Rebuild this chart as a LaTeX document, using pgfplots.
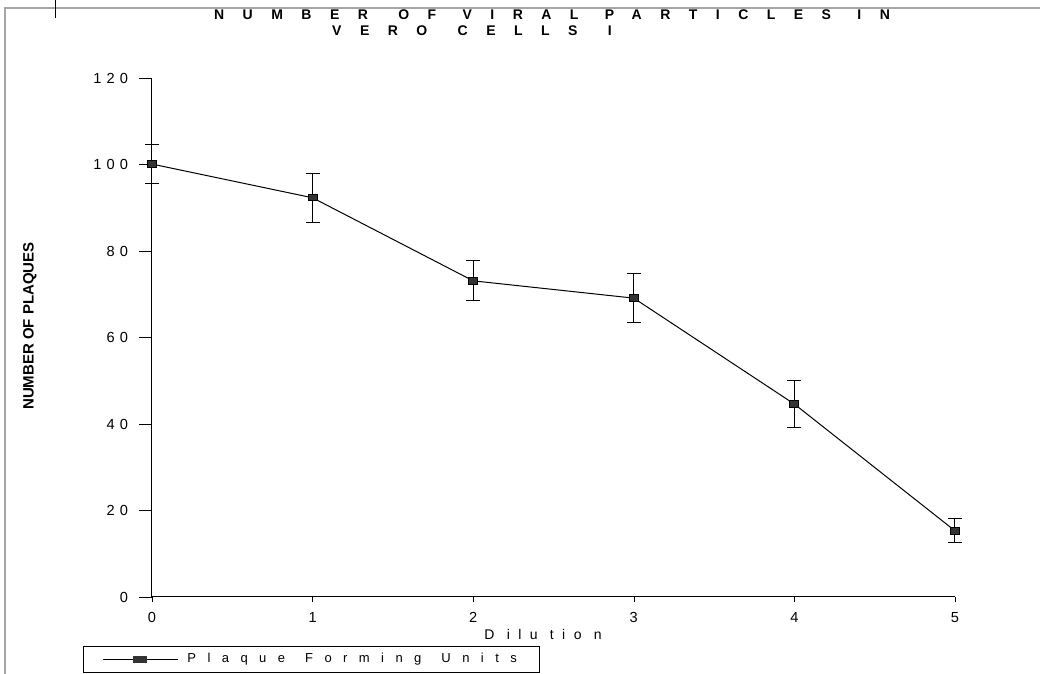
\documentclass[border=0pt]{standalone}
\usepackage{fontspec}
\setmainfont{Liberation Sans}
\usepackage{pgfplots}
\pgfplotsset{compat=1.18}
\newfontfamily\titlefont[LetterSpace=132]{Liberation Sans}
\newfontfamily\tickfont[LetterSpace=35]{Liberation Sans}
\newfontfamily\legfont[LetterSpace=88]{Liberation Sans}
\newfontfamily\xlabfont[LetterSpace=60]{Liberation Sans}
\begin{document}
\begin{tikzpicture}
\path[use as bounding box] (0,0) rectangle (520pt,337pt);
\draw[gray!70,line width=0.8pt] (2.5pt,0) -- (2.5pt,333pt) -- (520pt,333pt);
\draw[black,line width=0.5pt] (27.5pt,337pt) -- (27.5pt,328pt);
\begin{axis}[
  at={(76pt,38.5pt)}, anchor=south west,
  scale only axis, width=401.5pt, height=259.5pt,
  xmin=0, xmax=5, ymin=0, ymax=120,
  axis lines=left, axis line style={-, line width=0.5pt},
  xtick={0,1,2,3,4,5}, ytick={0,20,40,60,80,100,120},
  tick align=outside, major tick length=6.5pt,
  xtick style={black, /pgfplots/major tick length=2.5pt},
  ytick style={black},
  /pgf/number format/assume math mode=true,
  tick label style={font=\tickfont\fontsize{7.3}{8}\selectfont},
  yticklabel style={xshift=-2pt},
  xticklabel style={yshift=2.5pt},
  legend style={at={(-0.0859,-0.0944)}, anchor=north west,
    draw=black, line width=0.4pt, font=\legfont\fontsize{6.5}{8}\selectfont,
    inner xsep=9.5pt, inner ysep=1.5pt, legend cell align=left},
  legend image code/.code={
    \draw[black, line width=0.5pt] (0pt,0pt) -- (37.5pt,0pt);
    \fill[black!80] (15.5pt,-1.5pt) rectangle (22pt,1.5pt);
    \path (40pt,0pt);},
  clip=false,
]
\addplot[black, line width=0.5pt, mark=square*, mark size=1.6pt,
  mark options={xscale=1.4, fill=black!80},
  error bars/.cd, y dir=both, y explicit,
  error mark options={rotate=90, mark size=3.5pt, line width=0.5pt},
  error bar style={line width=0.5pt}]
  coordinates {
  (0,100.1) +- (0,4.6)
  (1,92.3) +- (0,5.6)
  (2,73.1) +- (0,4.6)
  (3,69.1) +- (0,5.7)
  (4,44.6) +- (0,5.4)
  (5,15.3) +- (0,2.8)
  };
\addlegendentry{Plaque\hspace{2.5pt} Forming\hspace{2.5pt} Units}
\node[font=\xlabfont\fontsize{7}{8}\selectfont] at (axis description cs:0.487,-0.0732) {D ilu tio n};
\node[font=\bfseries\fontsize{7.5}{9}\selectfont, rotate=90] at (axis description cs:-0.152,0.522) {NUMBER OF PLAQUES};
\end{axis}
\node[font=\titlefont\bfseries\fontsize{7}{7.5}\selectfont] at (276pt,329.5pt) {NUMBER\hspace{4pt} OF\hspace{2pt} VIRAL\hspace{2pt} PARTICLES\hspace{2pt} IN};
\node[font=\titlefont\bfseries\fontsize{7}{7.5}\selectfont] at (236pt,321.5pt) {VERO\hspace{4pt} CELLS\hspace{4pt} I};
\end{tikzpicture}
\end{document}
